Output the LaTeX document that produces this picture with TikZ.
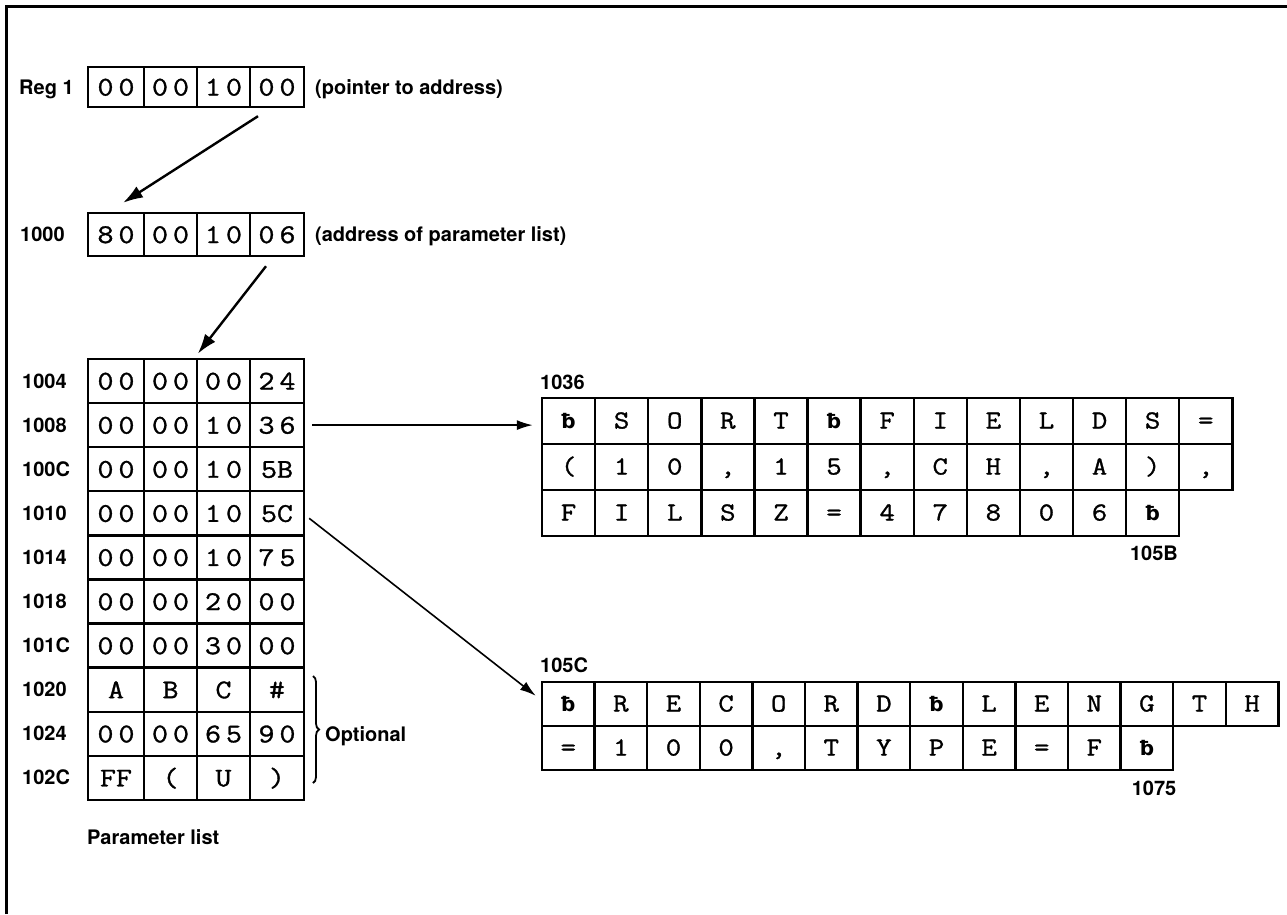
\documentclass[tikz,border=0pt]{standalone}
\usepackage{fontspec}
\setsansfont{TeX Gyre Heros}
\newfontfamily\cellfont[FakeBold=1.2,FakeStretch=1.15]{Latin Modern Mono}
\newfontfamily\blankfont{DejaVu Sans}
\usetikzlibrary{arrows.meta,decorations.pathreplacing}

% blank symbol (b with a stroke)
\newcommand{\bl}{{\blankfont\bfseries\fontsize{20}{20}\selectfont ƀ}}
% two hex digits, spread apart
\newcommand{\dd}[2]{#1\hspace{5pt}#2}

\begin{document}
\begin{tikzpicture}[x=1pt,y=-1pt,
  lbl/.style={font=\sffamily\bfseries\fontsize{20}{24}\selectfont, inner sep=0pt, anchor=base west},
  cell/.style={draw, line width=2.4pt, inner sep=0pt, text height=15pt, text depth=0pt,
               font=\cellfont\fontsize{26}{26}\selectfont},
  hexcell/.style={cell, text height=17pt, font=\cellfont\fontsize{27}{27}\selectfont},
  bigarrow/.style={line width=2.4pt, -{Latex[length=20pt,width=13pt]}},
  thinarrow/.style={line width=1.6pt, -{Latex[length=16pt,width=10pt]}},
  frame/.style={line width=3pt}]

\useasboundingbox (0,0) rectangle (1287,914);

% outer frame (top and left edges)
\draw[frame] (6,914) -- (6,6) -- (1287,6);

% one four-byte word: name, centre y, height, four cell texts
\newcommand{\wordrow}[7]{%
  \node[hexcell, minimum width=56pt, minimum height=#3] (#1-1) at (116,#2) {#4};
  \node[hexcell, minimum width=53pt, minimum height=#3] (#1-2) at (170.5,#2) {#5};
  \node[hexcell, minimum width=53pt, minimum height=#3] (#1-3) at (223.5,#2) {#6};
  \node[hexcell, minimum width=54pt, minimum height=#3] (#1-4) at (277,#2) {#7};
}

% register 1
\node[lbl] (lreg) at (19,94) {Reg 1};
\wordrow{r}{87}{40pt}{\dd00}{\dd00}{\dd10}{\dd00}
\node[lbl] (lptr) at (315,94) {(pointer to address)};

% word at 1000
\node[lbl] (l1000) at (20,241) {1000};
\wordrow{m}{234.5}{43pt}{\dd80}{\dd00}{\dd10}{\dd06}
\node[lbl] (ladr) at (315,241) {(address of parameter list)};

% parameter list
\wordrow{p1}{381}{44.1pt}{\dd00}{\dd00}{\dd00}{\dd24}
\wordrow{p2}{425.1}{44.1pt}{\dd00}{\dd00}{\dd10}{\dd36}
\wordrow{p3}{469.2}{44.1pt}{\dd00}{\dd00}{\dd10}{5B}
\wordrow{p4}{513.3}{44.1pt}{\dd00}{\dd00}{\dd10}{5C}
\wordrow{p5}{557.4}{44.1pt}{\dd00}{\dd00}{\dd10}{\dd75}
\wordrow{p6}{601.5}{44.1pt}{\dd00}{\dd00}{\dd20}{\dd00}
\wordrow{p7}{645.6}{44.1pt}{\dd00}{\dd00}{\dd30}{\dd00}
\wordrow{p8}{689.7}{44.1pt}{A}{B}{C}{\#}
\wordrow{p9}{733.8}{44.1pt}{\dd00}{\dd00}{\dd65}{\dd90}
\wordrow{p10}{777.9}{44.1pt}{FF}{(}{U}{)}

\foreach \t/\yy [count=\i] in {1004/381,1008/425.1,100C/469.2,1010/513.3,1014/557.4,
                              1018/601.5,101C/645.6,1020/689.7,1024/733.8,102C/777.9}
  \node[lbl] (laddr\i) at (22,\yy+7) {\t};

\draw[decorate, decoration={brace, amplitude=6pt}, line width=1.8pt] (313,676) -- (313,783);
\node[lbl] (lopt) at (325,741) {Optional};
\node[lbl] (lplist) at (87,844) {Parameter list};

% SORT FIELDS statement at 1036
\node[lbl] (l1036) at (540,389) {1036};
\foreach \t [count=\i] in {\bl,S,O,R,T,\bl,F,I,E,L,D,S,=}
  \node[cell, minimum width=53.1pt, minimum height=46pt] (a1-\i) at ({542+53.1*(\i-0.5)},421) {\t};
\foreach \t [count=\i] in {{(},1,0,{,},1,5,{,},C,H,{,},A,{)},{,}}
  \node[cell, minimum width=53.1pt, minimum height=46pt] (a2-\i) at ({542+53.1*(\i-0.5)},467) {\t};
\foreach \t [count=\i] in {F,I,L,S,Z,=,4,7,8,0,6,\bl}
  \node[cell, minimum width=53.1pt, minimum height=46pt] (a3-\i) at ({542+53.1*(\i-0.5)},513) {\t};
\node[lbl, anchor=base] (l105B) at (1154,560) {105B};

% RECORD LENGTH statement at 105C
\node[lbl] (l105C) at (540,672) {105C};
\foreach \t [count=\i] in {\bl,R,E,C,O,R,D,\bl,L,E,N,G,T,H}
  \node[cell, minimum width=52.6pt, minimum height=44pt] (b1-\i) at ({542+52.6*(\i-0.5)},704) {\t};
\foreach \t [count=\i] in {=,1,0,0,{,},T,Y,P,E,=,F,\bl}
  \node[cell, minimum width=52.6pt, minimum height=44pt] (b2-\i) at ({542+52.6*(\i-0.5)},748) {\t};
\node[lbl, anchor=base] (l1075) at (1154,795) {1075};

% pointers
\coordinate (s1) at ([shift={(-19pt,-8pt)}]r-4.south);
\coordinate (t1) at ([shift={(7pt,9pt)}]m-1.north);
\draw[bigarrow] (s1) -- (t1);

\coordinate (s2) at ([shift={(-11pt,-9pt)}]m-4.south);
\coordinate (t2) at ([shift={(2pt,4pt)}]p1-3.north west);
\draw[bigarrow] (s2) -- (t2);

\draw[thinarrow, shorten <=7pt, shorten >=8pt] (p2-4.east) -- (p2-4.east -| a1-1.west);

\coordinate (s4) at ([shift={(4pt,-5pt)}]p4-4.east);
\coordinate (t4) at ([shift={(-5pt,-15pt)}]b1-1.north west);
\draw[thinarrow] (s4) -- (t4);

\end{tikzpicture}
\end{document}
